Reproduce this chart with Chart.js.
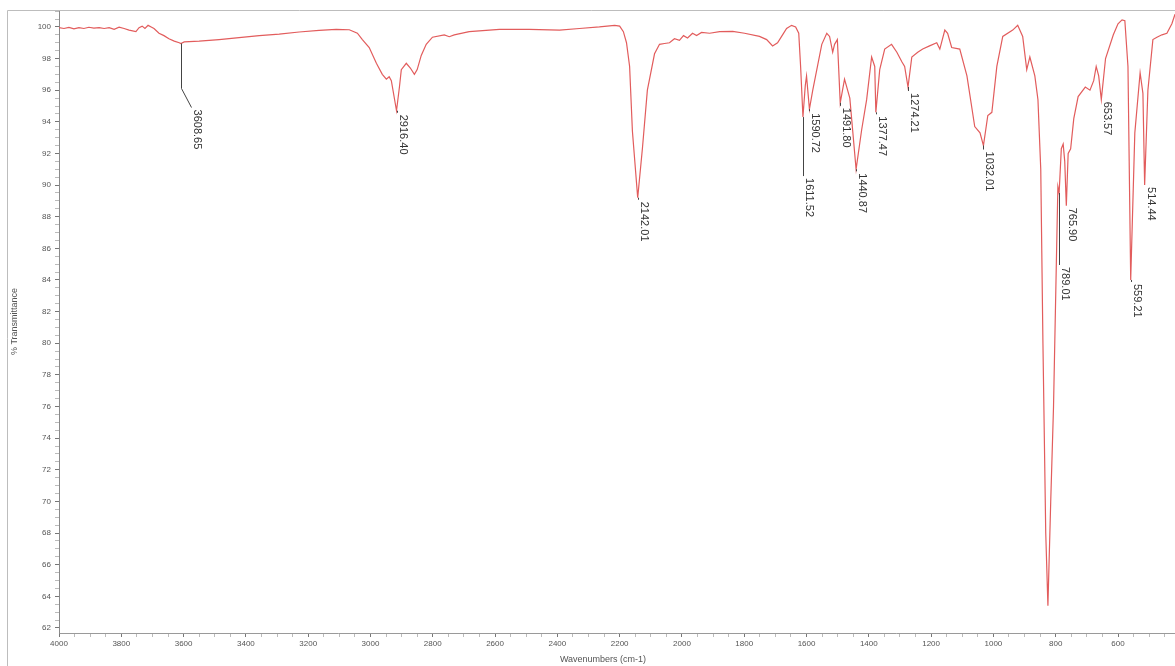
<!DOCTYPE html>
<html>
<head>
<meta charset="utf-8">
<title>IR spectrum</title>
<script src="https://cdn.jsdelivr.net/npm/chart.js@4.4.1/dist/chart.umd.min.js"></script>
<style>
  html, body { margin: 0; padding: 0; background: #fff; }
</style>
</head>
<body>
<canvas id="irChart" width="1175" height="666"></canvas>
<script>
// spectrum (cm-1, %T)
const wavenumbers = [
  4000, 3984, 3968, 3952, 3936, 3920, 3904, 3888, 3871, 3855, 3839, 3823, 3807, 3791, 3775, 3753,
  3743, 3733, 3724, 3714, 3704, 3695, 3679, 3663, 3647, 3630, 3614, 3608.65, 3598, 3550, 3486, 3422,
  3357, 3293, 3229, 3165, 3110, 3068, 3042, 3026, 3004, 2981, 2962, 2949, 2940, 2933, 2916.4, 2907,
  2901, 2885, 2872, 2859, 2850, 2837, 2821, 2801, 2763, 2747, 2731, 2683, 2586, 2490, 2393, 2329,
  2265, 2216, 2200, 2188, 2178, 2168, 2159, 2142.01, 2127, 2111, 2088, 2072, 2056, 2040, 2024, 2008,
  1995, 1982, 1966, 1953, 1937, 1911, 1879, 1837, 1799, 1751, 1728, 1709, 1693, 1680, 1664, 1648,
  1635, 1625, 1619, 1611.52, 1604, 1600, 1590.72, 1580, 1564, 1551, 1535, 1526, 1516, 1510, 1501, 1491.8,
  1478, 1461, 1440.87, 1423, 1407, 1391, 1381, 1377.47, 1365, 1349, 1327, 1310, 1294, 1285, 1274.21, 1262,
  1243, 1227, 1205, 1182, 1172, 1156, 1147, 1134, 1108, 1085, 1060, 1043, 1032.01, 1018, 1005, 989,
  970, 938, 922, 906, 893, 883, 867, 857, 848, 841, 832, 825, 816, 807, 797, 793,
  789.01, 782, 776, 771, 765.9, 760, 752, 742, 728, 705, 690, 678, 670, 662, 653.57, 640,
  615, 600, 587, 578, 568, 559.21, 546, 529, 520, 514.44, 504, 488, 475, 459, 443, 427,
  417
];
const transmittance = [
  99.95, 99.9, 99.97, 99.88, 99.95, 99.9, 99.98, 99.92, 99.96, 99.9, 99.95, 99.85, 99.98, 99.9, 99.8, 99.7,
  99.95, 100.05, 99.9, 100.1, 100.0, 99.9, 99.6, 99.45, 99.25, 99.1, 99.0, 98.95, 99.05, 99.1, 99.2, 99.32,
  99.45, 99.55, 99.68, 99.78, 99.85, 99.82, 99.6, 99.2, 98.7, 97.7, 97.0, 96.7, 96.85, 96.6, 94.7, 96.2,
  97.3, 97.7, 97.4, 97.0, 97.3, 98.2, 98.9, 99.35, 99.5, 99.38, 99.5, 99.7, 99.85, 99.85, 99.8, 99.9,
  100.0, 100.1, 100.05, 99.7, 99.0, 97.5, 93.4, 89.2, 92.3, 96.0, 98.3, 98.9, 98.95, 99.0, 99.25, 99.15,
  99.45, 99.3, 99.6, 99.45, 99.65, 99.6, 99.7, 99.72, 99.6, 99.4, 99.2, 98.8, 99.0, 99.4, 99.9, 100.1,
  100.0, 99.6, 97.5, 94.3, 96.3, 96.9, 94.8, 96.0, 97.6, 98.9, 99.6, 99.4, 98.4, 98.9, 99.2, 95.2,
  96.7, 95.5, 91.0, 93.5, 95.4, 98.1, 97.5, 94.6, 97.3, 98.6, 98.9, 98.4, 97.8, 97.5, 96.2, 98.1,
  98.4, 98.6, 98.8, 99.0, 98.6, 99.8, 99.6, 98.7, 98.6, 96.9, 93.7, 93.3, 92.5, 94.4, 94.6, 97.5,
  99.4, 99.8, 100.1, 99.4, 97.3, 98.1, 96.9, 95.4, 91.0, 80.0, 68.0, 63.4, 70.0, 76.0, 86.0, 89.9,
  89.5, 92.3, 92.6, 91.5, 88.7, 92.0, 92.3, 94.2, 95.6, 96.2, 96.0, 96.6, 97.5, 96.9, 95.4, 98.0,
  99.5, 100.2, 100.45, 100.4, 97.5, 84.0, 93.3, 97.1, 95.8, 90.0, 96.0, 99.2, 99.35, 99.5, 99.6, 100.2,
  100.8
];

// picked peaks
const peakWavenumbers = [3608.65, 2916.4, 2142.01, 1611.52, 1590.72, 1491.8, 1440.87, 1377.47, 1274.21, 1032.01, 789.01, 765.9, 653.57, 559.21, 514.44];
const peakValues = [98.95, 94.7, 89.2, 94.3, 94.8, 95.2, 91.0, 94.6, 96.2, 92.5, 89.5, 88.7, 95.4, 84.0, 90.0];
const peakLabels = ["3608.65", "2916.40", "2142.01", "1611.52", "1590.72", "1491.80", "1440.87", "1377.47", "1274.21", "1032.01", "789.01", "765.90", "653.57", "559.21", "514.44"];

// leader line per label: [drop px, slant dx, slant dy]
const peakLeaders = [[45, 10, 19], [2, 0, 0], [2, 0, 0], [59, 0, 0], [2, 0, 0], [3, 0, 0], [2, 0, 0], [2, 0, 0], [4, 0, 0], [4, 0, 0], [72, 0, 0], [0, 0, 0], [0, 0, 0], [2, 0, 0], [0, 0, 0]];

const FONT = "'Liberation Sans', Arial, sans-serif";

const points = wavenumbers.map((w, i) => ({ x: w, y: transmittance[i] }));

// frame, axis titles and peak labels
const annotate = {
    id: "annotate",
    afterDraw(chart) {
        const { ctx, scales: { x, y }, chartArea } = chart;
        ctx.save();

        // outer window frame
        ctx.strokeStyle = "#bdbdbd";
        ctx.lineWidth = 1;
        ctx.beginPath();
        ctx.moveTo(7.5, 666);
        ctx.lineTo(7.5, 10.5);
        ctx.lineTo(1175, 10.5);
        ctx.stroke();

        // axis titles
        ctx.fillStyle = "#555";
        ctx.font = "9px " + FONT;
        ctx.textAlign = "center";
        ctx.textBaseline = "middle";
        ctx.fillText("Wavenumbers (cm-1)", 603, 660);
        ctx.save();
        ctx.translate(15, (chartArea.top + chartArea.bottom) / 2);
        ctx.rotate(-Math.PI / 2);
        ctx.fillText("% Transmittance", 0, 0);
        ctx.restore();

        // peak labels
        ctx.strokeStyle = "#444";
        ctx.fillStyle = "#333";
        ctx.font = "11px " + FONT;
        ctx.textAlign = "left";
        peakWavenumbers.forEach((w, i) => {
            const px = Math.round(x.getPixelForValue(w)) + 0.5;
            const py = y.getPixelForValue(peakValues[i]);
            const [drop, dx, dy] = peakLeaders[i];
            const endX = px + dx;
            const endY = py + drop + dy;
            if (drop > 0) {
                ctx.beginPath();
                ctx.moveTo(px, py);
                ctx.lineTo(px, py + drop);
                ctx.lineTo(endX, endY);
                ctx.stroke();
            }
            ctx.save();
            ctx.translate(endX + 6, endY + 2);
            ctx.rotate(Math.PI / 2);
            ctx.fillText(peakLabels[i], 0, 0);
            ctx.restore();
        });
        ctx.restore();
    }
};

// major + minor ticks on round steps only
const stepTicks = (step) => (scale) => {
    const ticks = [];
    for (let v = Math.ceil(scale.min / step) * step; v <= scale.max + 1e-9; v += step) {
        ticks.push({ value: Math.round(v * 100) / 100 });
    }
    scale.ticks = ticks;
};

new Chart(document.getElementById("irChart"), {
    type: "line",
    data: {
        datasets: [{
            label: "% Transmittance",
            data: points,
            borderColor: "rgb(226, 92, 92)",
            borderWidth: 1.2,
            pointRadius: 0,
            tension: 0,
            fill: false
        }]
    },
    options: {
        responsive: false,
        devicePixelRatio: 1,
        animation: false,
        layout: { padding: { top: 10, right: 0, bottom: 0, left: 0 } },
        plugins: {
            legend: { display: false },
            tooltip: { enabled: false }
        },
        scales: {
            x: {
                type: "linear",
                reverse: true,
                min: 417,
                max: 4000,
                afterFit: (s) => { s.height = 33; },
                afterBuildTicks: stepTicks(50),
                border: { display: true, color: "#9a9a9a" },
                grid: {
                    drawOnChartArea: false,
                    tickLength: 4,
                    tickColor: (c) => (c.tick && c.tick.value % 200 === 0 ? "#777" : "#bbb")
                },
                ticks: {
                    autoSkip: false,
                    maxRotation: 0,
                    padding: 2,
                    color: "#555",
                    font: { size: 8, family: FONT },
                    callback: (v) => (v % 200 === 0 ? String(v) : "")
                }
            },
            y: {
                min: 61.68,
                max: 101.07,
                afterFit: (s) => { s.width = 59; },
                afterBuildTicks: stepTicks(0.5),
                border: { display: true, color: "#8a8a8a" },
                grid: {
                    drawOnChartArea: false,
                    tickLength: 4,
                    tickColor: (c) => (c.tick && c.tick.value % 2 === 0 ? "#777" : "#bbb")
                },
                ticks: {
                    autoSkip: false,
                    padding: 4,
                    color: "#555",
                    font: { size: 8, family: FONT },
                    callback: (v) => (v % 2 === 0 ? String(v) : "")
                }
            }
        }
    },
    plugins: [annotate]
});
</script>
</body>
</html>
